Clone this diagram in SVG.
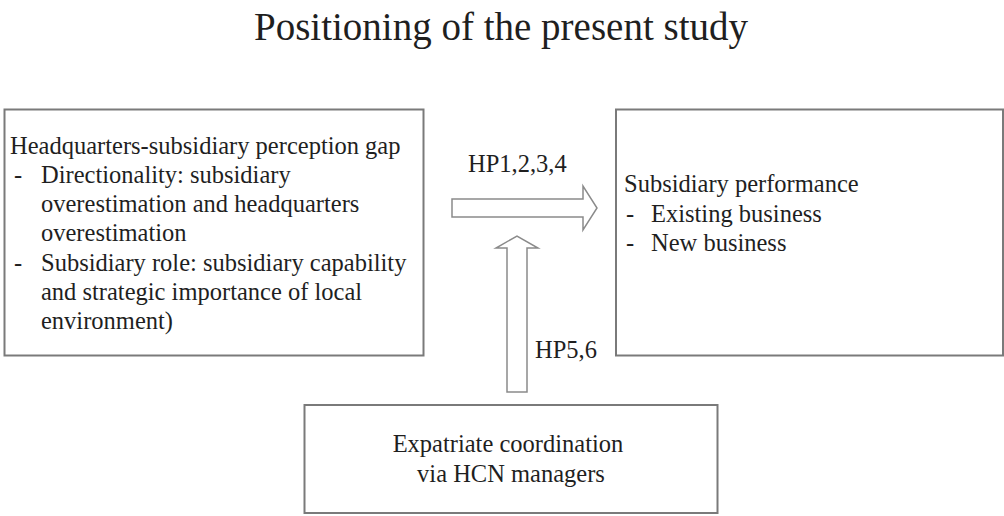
<svg xmlns="http://www.w3.org/2000/svg" width="1004" height="516" viewBox="0 0 1004 516">
  <style>
    text { font-family: "Liberation Serif", "Times New Roman", serif; fill: #1f1f1f; }
    .title { font-size: 39px; }
    .body { font-size: 24.5px; }
    .box { fill: #ffffff; stroke: #7a7a7a; stroke-width: 2; }
    .arrow { fill: #ffffff; stroke: #8a8a8a; stroke-width: 1.5; stroke-linejoin: miter; }
  </style>
  <rect width="1004" height="516" fill="#ffffff"/>

  <text class="title" x="501" y="40" text-anchor="middle">Positioning of the present study</text>

  <!-- perception gap -->
  <g id="node-gap">
    <rect class="box" x="4.5" y="109.5" width="419" height="246"/>
    <text class="body">
      <tspan x="10" y="154">Headquarters-subsidiary perception gap</tspan>
      <tspan x="14" y="183">-</tspan><tspan x="41" y="183">Directionality: subsidiary</tspan>
      <tspan x="41" y="212">overestimation and headquarters</tspan>
      <tspan x="41" y="241">overestimation</tspan>
      <tspan x="14" y="271">-</tspan><tspan x="41" y="271">Subsidiary role: subsidiary capability</tspan>
      <tspan x="41" y="300">and strategic importance of local</tspan>
      <tspan x="41" y="329">environment)</tspan>
    </text>
  </g>

  <!-- subsidiary performance -->
  <g id="node-performance">
    <rect class="box" x="616" y="109.5" width="387" height="246"/>
    <text class="body">
      <tspan x="624" y="192">Subsidiary performance</tspan>
      <tspan x="626" y="222">-</tspan><tspan x="651" y="222">Existing business</tspan>
      <tspan x="626" y="251">-</tspan><tspan x="651" y="251">New business</tspan>
    </text>
  </g>

  <!-- expatriate coordination -->
  <g id="node-expatriate">
    <rect class="box" x="304.5" y="405" width="413" height="108"/>
    <text class="body" text-anchor="middle">
      <tspan x="511" y="452">Expatriate coordination</tspan>
      <tspan x="511" y="482">via HCN managers</tspan>
    </text>
  </g>

  <!-- block arrows -->
  <g id="connectors">
    <polygon class="arrow" points="452,199 583,199 583,186 597,208 583,230 583,217 452,217"/>
    <polygon class="arrow" points="507,392 507,248 496,248 517,236 538,248 527,248 527,392"/>
    <text class="body" x="468" y="172">HP1,2,3,4</text>
    <text class="body" x="535" y="358">HP5,6</text>
  </g>
</svg>
